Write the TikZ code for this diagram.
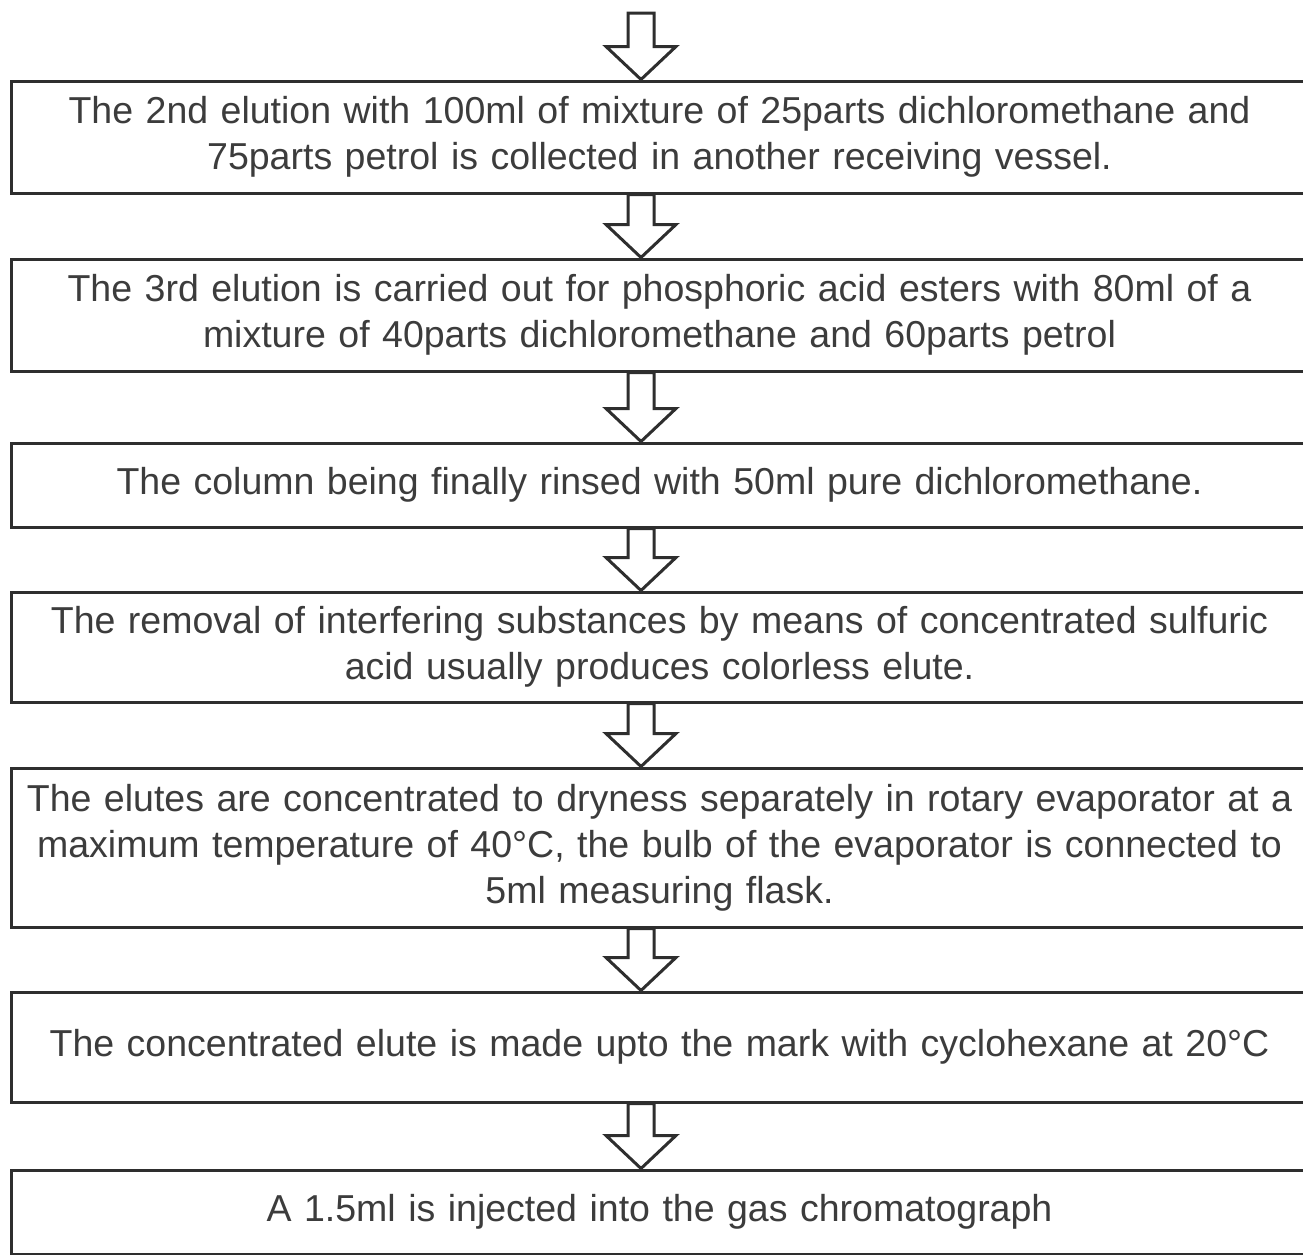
\documentclass[tikz,border=0pt]{standalone}
\usepackage{fontspec}
\setmainfont{Liberation Sans}
\usetikzlibrary{calc}
\definecolor{inkline}{HTML}{2E2E2E}
\definecolor{inktext}{HTML}{3C3C3C}
\begin{document}
\begin{tikzpicture}[x=1pt,y=-1pt,
  stepbox/.style={draw=inkline, line width=3pt, rectangle, fill=white,
    minimum width=1297pt, text width=1285pt, align=center, inner sep=0pt,
    text=inktext, font=\fontsize{37.5}{46}\selectfont},
  barrow/.style={draw=inkline, line width=3pt, line join=miter, fill=white}]
\useasboundingbox (0,0) rectangle (1303,1254);

% process steps, top to bottom
\node[stepbox, minimum height=112pt] (b1) at (659.5,137)
  {The 2nd elution with 100ml of mixture of 25parts dichloromethane and\\75parts petrol is collected in another receiving vessel.};
\node[stepbox, minimum height=112pt] (b2) at (659.5,315)
  {The 3rd elution is carried out for phosphoric acid esters with 80ml of a\\mixture of 40parts dichloromethane and 60parts petrol};
\node[stepbox, minimum height=84pt] (b3) at (659.5,485)
  {The column being finally rinsed with 50ml pure dichloromethane.};
\node[stepbox, minimum height=110pt] (b4) at (659.5,647)
  {The removal of interfering substances by means of concentrated sulfuric\\acid usually produces colorless elute.};
\node[stepbox, minimum height=159pt] (b5) at (659.5,847.5)
  {The elutes are concentrated to dryness separately in rotary evaporator at a\\maximum temperature of 40°C, the bulb of the evaporator is connected to\\5ml measuring flask.};
\node[stepbox, minimum height=110pt] (b6) at (659.5,1047)
  {The concentrated elute is made upto the mark with cyclohexane at 20°C};
\node[stepbox, minimum height=84pt] (b7) at (659.5,1212)
  {A 1.5ml is injected into the gas chromatograph};

\coordinate (in) at (659.5,13);

% hollow block arrows: from a start point down to the tip on the next box
\newcommand\flowarrow[2]{%
  \draw[barrow] let \p1=([xshift=-18.5pt]#1), \p2=([xshift=-18.5pt]#2.north) in
    (\x1-13pt,\y1) -- (\x1-13pt,\y2+33pt) -- (\x1-35pt,\y2+33pt) -- (\x2,\y2)
    -- (\x1+35pt,\y2+33pt) -- (\x1+13pt,\y2+33pt) -- (\x1+13pt,\y1) -- cycle;}
\flowarrow{in}{b1}
\flowarrow{b1.south}{b2}
\flowarrow{b2.south}{b3}
\flowarrow{b3.south}{b4}
\flowarrow{b4.south}{b5}
\flowarrow{b5.south}{b6}
\flowarrow{b6.south}{b7}
\end{tikzpicture}
\end{document}
